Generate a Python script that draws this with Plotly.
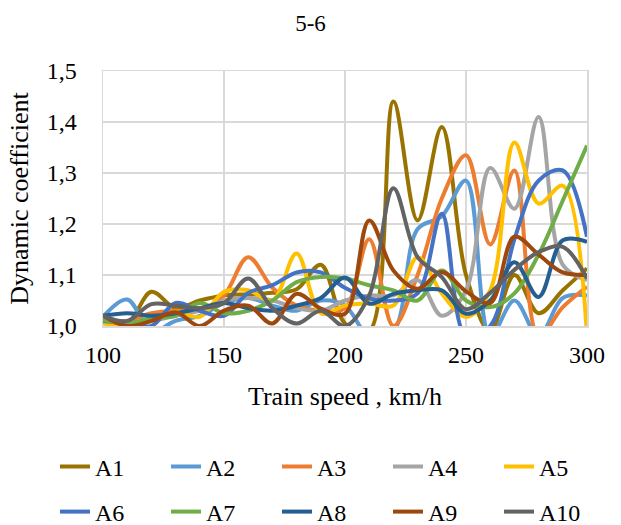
import plotly.graph_objects as go

speed = [100, 110, 120, 130, 140, 150, 160, 170, 180, 190, 200,
         210, 220, 230, 240, 250, 260, 270, 280, 290, 300]

A1 = [1.010, 1.005, 1.067, 1.035, 1.050, 1.060, 1.062, 1.065, 1.072, 1.120, 1.005,
      0.990, 1.440, 1.207, 1.390, 1.100, 0.990, 1.100, 1.025, 1.070, 1.113]
A2 = [1.018, 1.052, 0.990, 1.010, 1.020, 1.045, 1.055, 1.040, 1.030, 1.050, 1.040,
      0.980, 0.990, 1.190, 1.215, 1.285, 0.980, 1.050, 0.980, 1.055, 1.060]
A3 = [1.010, 1.010, 1.025, 1.030, 1.030, 1.060, 1.135, 1.075, 1.040, 1.030, 1.035,
      1.170, 1.000, 1.100, 1.250, 1.335, 1.160, 1.305, 0.980, 1.037, 1.077]
A4 = [1.010, 1.005, 1.010, 1.020, 1.030, 1.050, 1.055, 1.050, 1.035, 1.030, 1.050,
      1.060, 1.060, 1.090, 1.020, 1.070, 1.310, 1.230, 1.410, 1.120, 1.090]
A5 = [1.005, 1.000, 1.010, 1.028, 1.018, 1.067, 1.070, 1.050, 1.142, 1.025, 1.040,
      1.044, 1.040, 1.135, 1.064, 1.018, 1.070, 1.360, 1.240, 1.275, 0.980]
A6 = [1.010, 1.005, 1.000, 1.045, 1.030, 1.020, 1.065, 1.080, 1.105, 1.105, 1.075,
      1.054, 1.050, 1.064, 1.220, 0.980, 1.000, 1.170, 1.285, 1.305, 1.175]
A7 = [1.012, 1.005, 1.015, 1.020, 1.045, 1.025, 1.030, 1.050, 1.086, 1.096, 1.093,
      1.080, 1.070, 1.050, 1.109, 1.050, 1.037, 1.064, 1.140, 1.246, 1.354]
A8 = [1.020, 1.025, 1.020, 1.025, 1.035, 1.045, 1.035, 1.030, 1.040, 1.055, 1.095,
      1.044, 1.063, 1.070, 1.070, 1.024, 1.050, 1.125, 1.057, 1.168, 1.165]
A9 = [1.020, 1.000, 1.010, 1.027, 1.000, 1.030, 1.040, 1.005, 1.063, 1.034, 1.024,
      1.207, 1.109, 1.073, 1.106, 1.068, 1.045, 1.175, 1.140, 1.105, 1.100]
A10 = [1.020, 1.010, 1.043, 1.040, 1.035, 1.045, 1.093, 1.035, 1.005, 1.030, 1.000,
       1.060, 1.270, 1.135, 1.096, 1.033, 1.065, 1.110, 1.145, 1.155, 1.093]

names = ["A1", "A2", "A3", "A4", "A5", "A6", "A7", "A8", "A9", "A10"]
series = [A1, A2, A3, A4, A5, A6, A7, A8, A9, A10]
colors = ["#997300", "#5B9BD5", "#ED7D31", "#A5A5A5", "#FFC000",
          "#4472C4", "#70AD47", "#255E91", "#9E480E", "#636363"]

x_ticks = [100, 150, 200, 250, 300]
y_ticks = [1.0, 1.1, 1.2, 1.3, 1.4, 1.5]

FONT = "Liberation Serif"
GRID = "#D9D9D9"
W, H = 621, 525
PLOT_L, PLOT_W = 103, 484
PLOT_T, PLOT_H = 71, 255
PLOT_B = PLOT_T + PLOT_H


def px_to_paper_x(px):
    return (px - PLOT_L) / PLOT_W


def px_to_paper_y(py):
    return (PLOT_B - py) / PLOT_H


fig = go.Figure()
for i, (nm, ys, c) in enumerate(zip(names, series, colors)):
    fig.add_trace(go.Scatter(
        x=speed, y=ys, name=nm, mode="lines",
        line=dict(color=c, width=4, shape="spline", smoothing=1.0),
        legend="legend" if i < 5 else "legend2",
        showlegend=True,
    ))

legend_common = dict(
    orientation="h", xanchor="left", yanchor="middle",
    xref="paper", yref="paper",
    font=dict(family=FONT, size=24, color="black"),
    entrywidth=66, entrywidthmode="pixels",
    bgcolor="rgba(0,0,0,0)", borderwidth=0,
    itemclick=False, itemdoubleclick=False,
)

fig.update_layout(
    width=W, height=H,
    margin=dict(l=PLOT_L, r=W - PLOT_L - PLOT_W, t=PLOT_T, b=H - PLOT_B,
                autoexpand=False),
    paper_bgcolor="white", plot_bgcolor="white",
    separators=", ",
    font=dict(family=FONT, size=24, color="black"),
    title=dict(text="5-6", x=0.5, xref="container", xanchor="center",
               y=1 - 23 / H, yref="container", yanchor="middle",
               font=dict(family=FONT, size=23, color="black")),
    xaxis=dict(
        range=[100, 300], tickvals=x_ticks, ticktext=[str(v) for v in x_ticks],
        showgrid=True, gridcolor=GRID, gridwidth=1.5,
        showline=True, linecolor=GRID, linewidth=1.5, mirror=True,
        zeroline=False, ticks="outside", ticklen=7, tickcolor="rgba(0,0,0,0)",
        tickfont=dict(family=FONT, size=24, color="black"),
        title=dict(text="Train speed , km/h", standoff=19,
                   font=dict(family=FONT, size=26, color="black")),
        fixedrange=True,
    ),
    yaxis=dict(
        range=[1.0, 1.5], tickvals=y_ticks, tickformat=".1f",
        showgrid=True, gridcolor=GRID, gridwidth=1.5,
        showline=True, linecolor=GRID, linewidth=1.5, mirror=True,
        zeroline=False, ticks="outside", ticklen=20, tickcolor="rgba(0,0,0,0)",
        tickfont=dict(family=FONT, size=24, color="black"),
        title=dict(text="Dynamic coefficient", standoff=10,
                   font=dict(family=FONT, size=26, color="black")),
        fixedrange=True,
    ),
    legend=dict(x=px_to_paper_x(55), y=px_to_paper_y(467), **legend_common),
    legend2=dict(x=px_to_paper_x(55), y=px_to_paper_y(512), **legend_common),
)

fig.write_html(
    "out.html",
    config={"displayModeBar": False, "staticPlot": True},
    post_script="document.body.style.margin='0';document.body.style.overflow='hidden';",
)
